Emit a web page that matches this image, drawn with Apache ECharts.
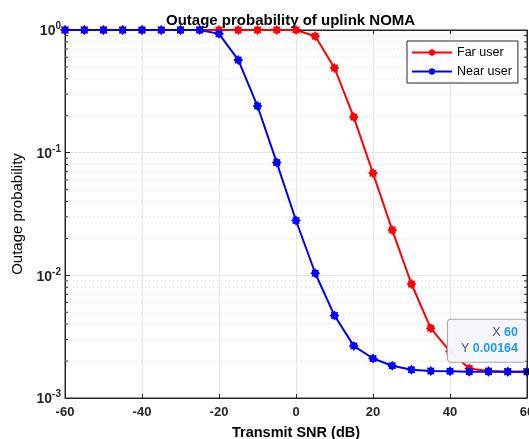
<!DOCTYPE html>
<html><head><meta charset="utf-8">
<script src="https://cdn.jsdelivr.net/npm/echarts@6/dist/echarts.min.js"></script>
<style>html,body{margin:0;padding:0;background:#fff}#c{width:529px;height:439px}</style>
</head><body><div id="c"></div>
<script>
var snr = [-60,-55,-50,-45,-40,-35,-30,-25,-20,-15,-10,-5,0,5,10,15,20,25,30,35,40,45,50,55,60];
var farUser = [1,1,1,1,1,1,1,1,1,1,1,1,1,0.89,0.49,0.195,0.068,0.0234,0.0085,0.0037,0.0024,0.00174,0.00166,0.00164,0.00164];
var nearUser = [1,1,1,1,1,1,1,1,0.93,0.57,0.24,0.083,0.028,0.0104,0.0047,0.00266,0.0021,0.00183,0.0017,0.00166,0.00165,0.00164,0.00164,0.00164,0.00164];
var xTicks = [-60,-40,-20,0,20,40,60];
var minorVals = [0.002,0.003,0.004,0.005,0.006,0.007,0.008,0.009,0.02,0.03,0.04,0.05,0.06,0.07,0.08,0.09,0.2,0.3,0.4,0.5,0.6,0.7,0.8,0.9];
var tipX = 60, tipY = 0.00164;

var star = 'path://M20,10L16.47,12.68L17.07,17.07L12.68,16.47L10,20L7.32,16.47L2.93,17.07L3.53,12.68L0,10L3.53,7.32L2.93,2.93L7.32,3.53L10,0L12.68,3.53L17.07,2.93L16.47,7.32Z';
var font = 'Liberation Sans, Arial, sans-serif';
var chart = echarts.init(document.getElementById('c'));
function pairs(ys){return snr.map(function(x,i){return [x, ys[i]];});}
chart.setOption({
  animation:false,
  backgroundColor:'#fff',
  title:{text:'Outage probability of uplink NOMA', left:161, top:8,
    textStyle:{fontFamily:font, fontSize:15, fontWeight:'bold', color:'#000'}},
  grid:{left:65, right:2, top:30, bottom:41, show:true, borderColor:'#262626', borderWidth:1, backgroundColor:'#fff', outerBoundsMode:'none', containLabel:false},
  legend:{orient:'vertical', left:407, top:41, backgroundColor:'#fff', borderColor:'#262626', borderWidth:1,
    padding:[5,6,5,4], itemGap:6, itemWidth:40, itemHeight:10,
    textStyle:{fontFamily:font, fontSize:12.5, color:'#000'}, data:['Far user','Near user']},
  xAxis:[{type:'value', min:-60, max:60, interval:20, position:'bottom',
    axisLine:{onZero:false, lineStyle:{color:'#262626'}}, axisTick:{inside:true, length:4, lineStyle:{color:'#262626'}},
    axisLabel:{fontFamily:font, fontSize:13, fontWeight:'bold', color:'#262626', margin:8},
    splitLine:{show:true, lineStyle:{color:'#e6e6e6', width:1}},
    name:'Transmit SNR (dB)', nameLocation:'middle', nameGap:27,
    nameTextStyle:{fontFamily:font, fontSize:14.5, fontWeight:'bold', color:'#000'}},
    {type:'value', min:-60, max:60, interval:20, position:'top', axisLine:{onZero:false, lineStyle:{color:'#262626'}},
     axisTick:{inside:true, length:4, lineStyle:{color:'#262626'}}, axisLabel:{show:false}, splitLine:{show:false}}],
  yAxis:[{type:'log', logBase:10, min:0.001, max:1, position:'left',
    axisLine:{show:true, onZero:false, lineStyle:{color:'#262626'}}, axisTick:{inside:true, length:5, lineStyle:{color:'#262626'}},
    splitLine:{show:true, lineStyle:{color:'#e6e6e6'}},
    axisLabel:{margin:4, formatter:function(v){var e=Math.round(Math.log10(v));return '{b|10}{s|'+e+'}';},
      rich:{b:{fontFamily:font, fontSize:14, fontWeight:'bold', color:'#262626', lineHeight:17, verticalAlign:'bottom'},
            s:{fontFamily:font, fontSize:10, fontWeight:'bold', color:'#262626', lineHeight:17, verticalAlign:'top', padding:[0,0,7,0]}}},
    name:'Outage probability', nameLocation:'middle', nameGap:38,
    nameTextStyle:{fontFamily:font, fontSize:15, color:'#000'}},
    {type:'log', logBase:10, min:0.001, max:1, position:'right', axisLine:{show:true, onZero:false, lineStyle:{color:'#262626'}},
     axisTick:{inside:true, length:5, lineStyle:{color:'#262626'}}, axisLabel:{show:false}, splitLine:{show:false}}],
  series:[
    {type:'custom', xAxisIndex:0, yAxisIndex:0, silent:true, z:1,
     data:minorVals.map(function(v){return [-60, v];}),
     renderItem:function(params, api){
       var v = api.value(1);
       var a = api.coord([-60, v]), b = api.coord([60, v]);
       return {type:'group', children:[
         {type:'line', shape:{x1:a[0], y1:a[1], x2:b[0], y2:b[1]}, style:{stroke:'#d8d8d8', lineWidth:1, lineDash:[1,3]}},
         {type:'line', shape:{x1:a[0], y1:a[1], x2:a[0]+3, y2:a[1]}, style:{stroke:'#262626', lineWidth:1}},
         {type:'line', shape:{x1:b[0]-3, y1:b[1], x2:b[0], y2:b[1]}, style:{stroke:'#262626', lineWidth:1}}
       ]};
     }},
    {name:'Far user', type:'line', data:pairs(farUser), symbol:star, symbolSize:10, showAllSymbol:true,
     lineStyle:{color:'#ff0000', width:2}, itemStyle:{color:'#ff0000'}, z:3},
    {name:'Near user', type:'line', data:pairs(nearUser), symbol:star, symbolSize:10, showAllSymbol:true,
     lineStyle:{color:'#0000ff', width:2}, itemStyle:{color:'#0000ff'}, z:4,
     markPoint:{symbol:'rect', symbolSize:4, itemStyle:{color:'#000'}, z:10,
       data:[{coord:[tipX, tipY]}],
       label:{show:true, position:[-77,-50], align:'left', verticalAlign:'top',
         width:65, padding:[5,8,5,5], backgroundColor:'rgba(246,246,252,0.97)', borderColor:'#a8a8b0', borderWidth:1, borderRadius:3,
         formatter:function(){return '{k|X }{v|'+tipX+'}\n{k|Y }{v|'+tipY+'}';},
         rich:{k:{fontFamily:font, fontSize:12.5, color:'#555', align:'right', lineHeight:16},
               v:{fontFamily:font, fontSize:12.5, fontWeight:'bold', color:'#1e9bf0', align:'right', lineHeight:16}}}}}
  ]
});
</script></body></html>
